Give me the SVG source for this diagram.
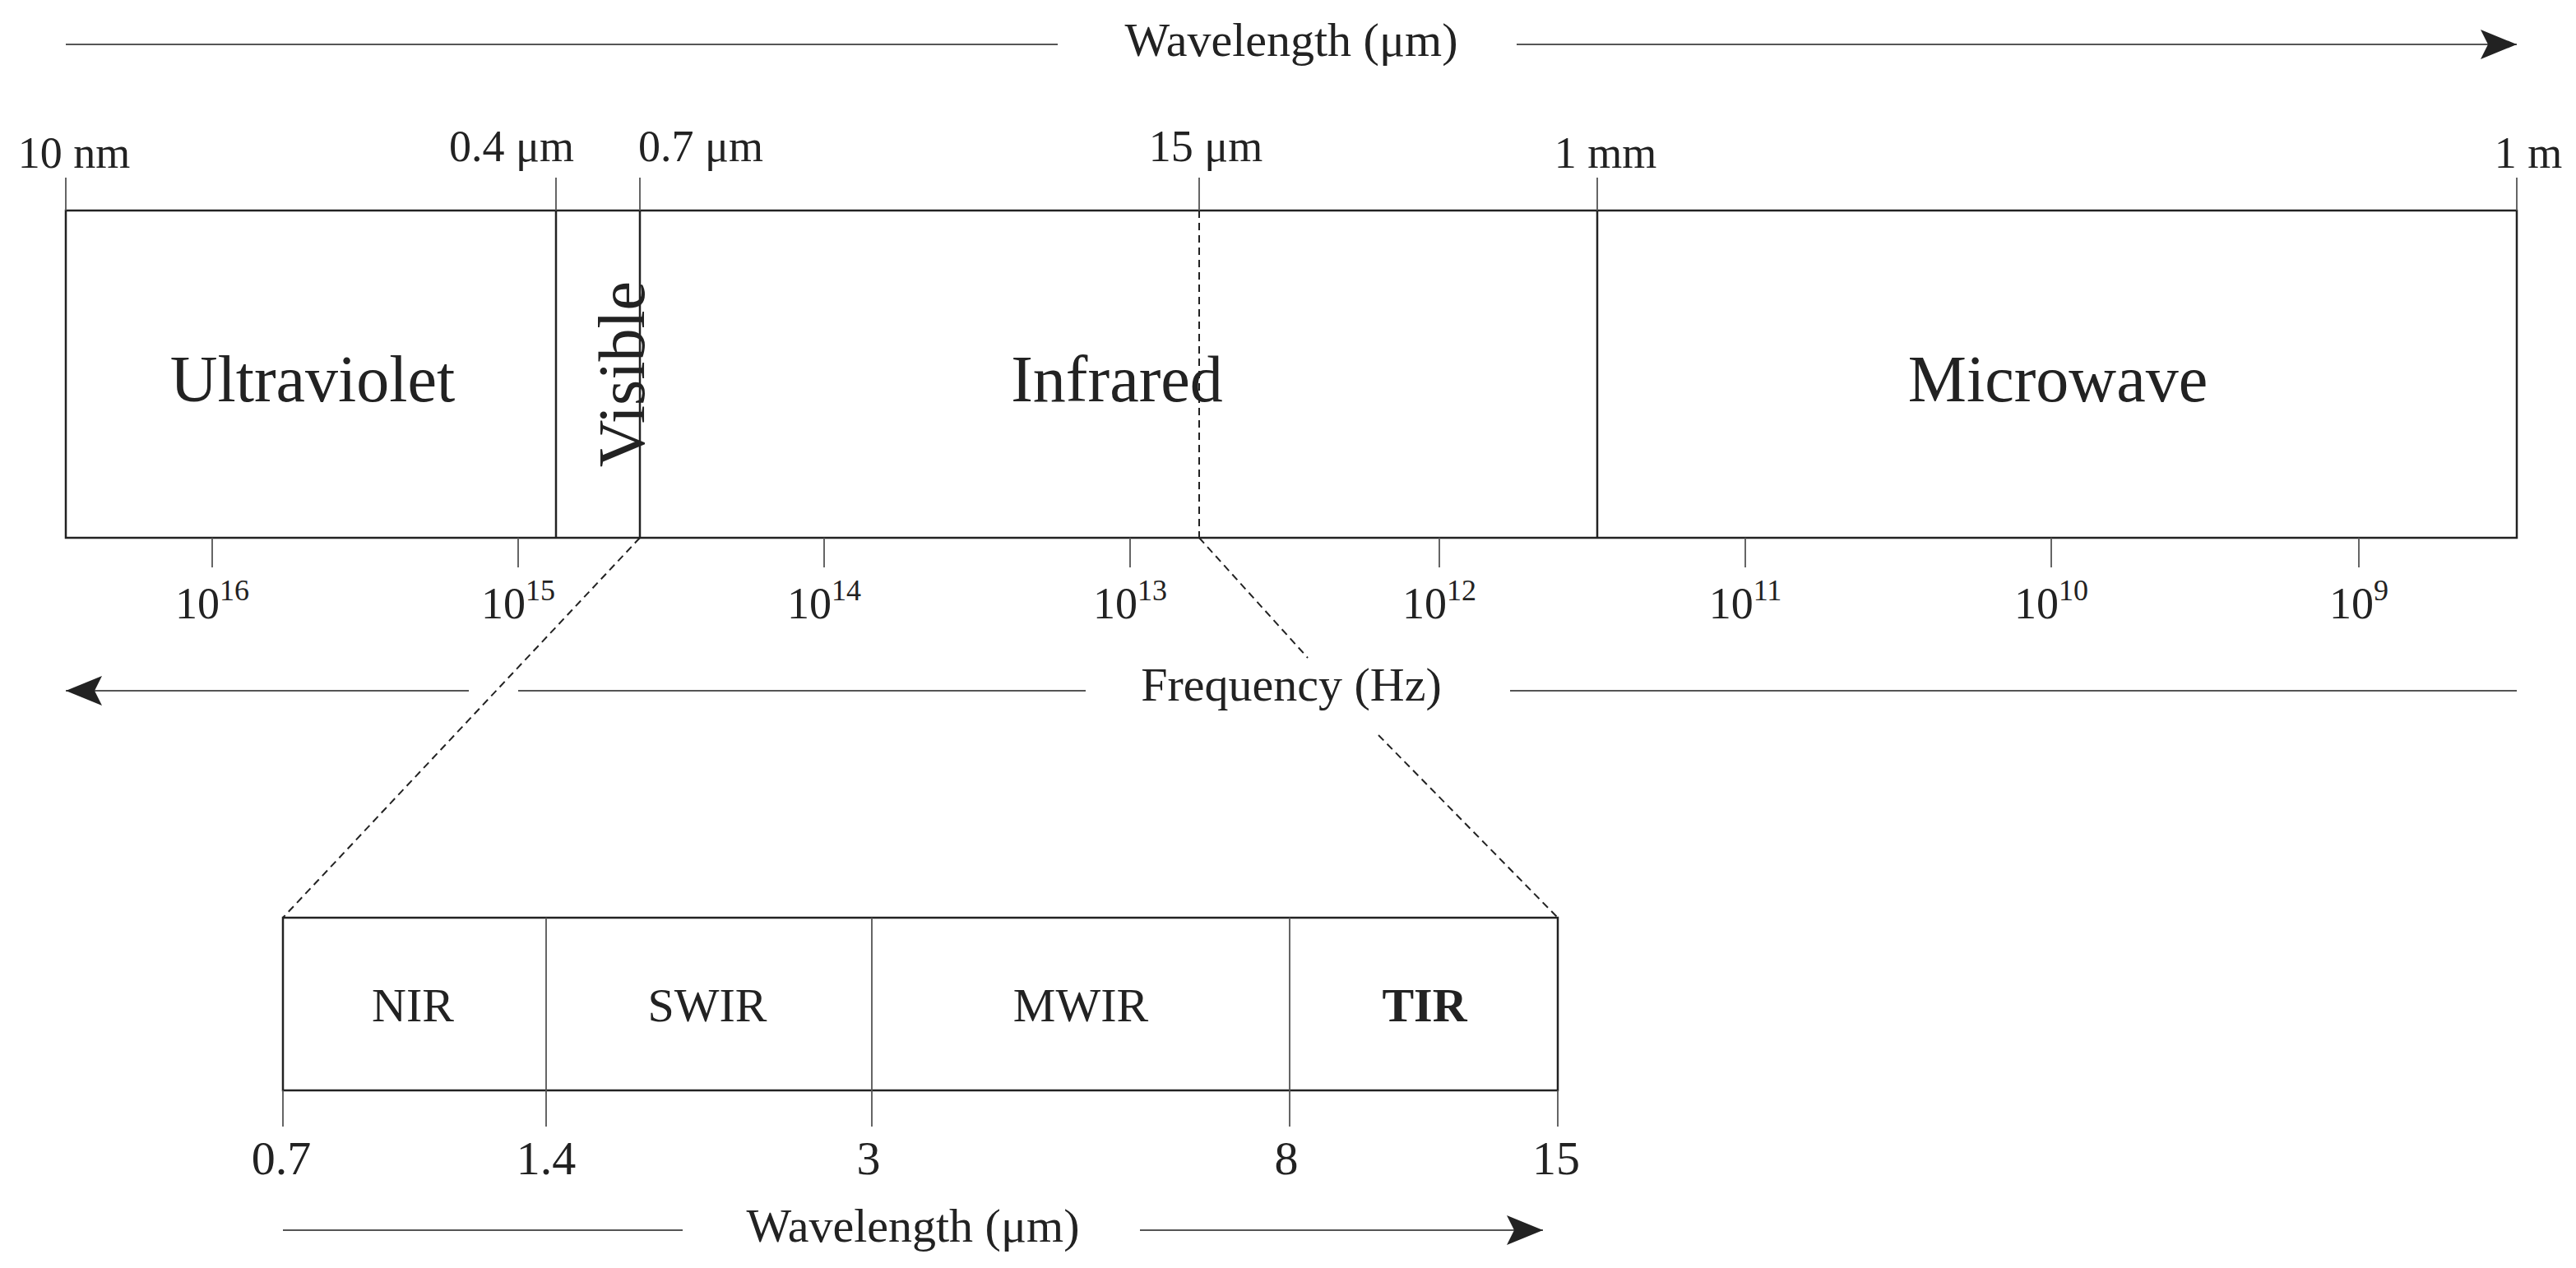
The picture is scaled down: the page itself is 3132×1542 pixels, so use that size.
<svg xmlns="http://www.w3.org/2000/svg" width="3132" height="1542" viewBox="0 0 3132 1542">
<style>
text{font-family:"Liberation Serif","DejaVu Serif",serif;fill:#222}
.ln{stroke:#222;stroke-width:2.5;fill:none}
.th{stroke:#555;stroke-width:1.8;fill:none}
.ds{stroke:#222;stroke-width:2;fill:none;stroke-dasharray:9 6}
.big{font-size:80px;text-anchor:middle}
.lab{font-size:54px;text-anchor:middle}
.sm{font-size:58px;text-anchor:middle}
</style>
<defs>
<marker id="ah" markerWidth="12" markerHeight="10" refX="11" refY="5" orient="auto" markerUnits="userSpaceOnUse" viewBox="0 0 12 10">
<path d="M0,0 L12,5 L0,10 L3,5 Z" fill="#222"/>
</marker>
<marker id="ahb" markerWidth="44" markerHeight="36" refX="44" refY="18" orient="auto" markerUnits="userSpaceOnUse">
<path d="M0,0 L44,18 L0,36 L9,18 Z" fill="#222"/>
</marker>
</defs>
<g id="axes">
<line class="th" x1="80" y1="54" x2="1286" y2="54"/>
<line class="th" x1="1844" y1="54" x2="3060" y2="54" marker-end="url(#ahb)"/>
<text class="sm" x="1570" y="68">Wavelength (μm)</text>
<line class="th" x1="3060" y1="840" x2="1836" y2="840"/>
<line class="th" x1="1320" y1="840" x2="630" y2="840"/>
<line class="th" x1="570" y1="840" x2="80" y2="840" marker-end="url(#ahb)"/>
<text class="sm" x="1570" y="852">Frequency (Hz)</text>
<line class="th" x1="344" y1="1496" x2="830" y2="1496"/>
<line class="th" x1="1386" y1="1496" x2="1876" y2="1496" marker-end="url(#ahb)"/>
<text class="sm" x="1110" y="1510">Wavelength (μm)</text>
</g>
<g id="spectrum">
<rect class="ln" x="80" y="256" width="2980" height="398"/>
<line class="ln" x1="676" y1="256" x2="676" y2="654"/>
<line class="ln" x1="778" y1="256" x2="778" y2="654"/>
<line class="ln" x1="1942" y1="256" x2="1942" y2="654"/>
<line class="ds" x1="1458" y1="256" x2="1458" y2="654"/>
<g class="th">
<line x1="80" y1="216" x2="80" y2="256"/><line x1="676" y1="216" x2="676" y2="256"/><line x1="778" y1="216" x2="778" y2="256"/><line x1="1458" y1="216" x2="1458" y2="256"/><line x1="1942" y1="216" x2="1942" y2="256"/><line x1="3060" y1="216" x2="3060" y2="256"/>
<line x1="258" y1="654" x2="258" y2="690"/><line x1="630" y1="654" x2="630" y2="690"/><line x1="1002" y1="654" x2="1002" y2="690"/><line x1="1374" y1="654" x2="1374" y2="690"/><line x1="1750" y1="654" x2="1750" y2="690"/><line x1="2122" y1="654" x2="2122" y2="690"/><line x1="2494" y1="654" x2="2494" y2="690"/><line x1="2868" y1="654" x2="2868" y2="690"/>
</g>
<text class="lab" x="90" y="204">10 nm</text>
<text class="lab" x="622" y="196">0.4 μm</text>
<text class="lab" x="852" y="196">0.7 μm</text>
<text class="lab" x="1466" y="196">15 μm</text>
<text class="lab" x="1952" y="204">1 mm</text>
<text class="lab" x="3074" y="204">1 m</text>
<text class="big" x="380" y="488">Ultraviolet</text>
<text class="big" x="756" y="455" transform="rotate(-90 756 455)" dy="0" style="dominant-baseline:central">Visible</text>
<text class="big" x="1358" y="488">Infrared</text>
<text class="big" x="2502" y="488">Microwave</text>
<g class="lab">
<text class="lab" x="258" y="752">10<tspan font-size="36" dy="-22">16</tspan></text>
<text class="lab" x="630" y="752">10<tspan font-size="36" dy="-22">15</tspan></text>
<text class="lab" x="1002" y="752">10<tspan font-size="36" dy="-22">14</tspan></text>
<text class="lab" x="1374" y="752">10<tspan font-size="36" dy="-22">13</tspan></text>
<text class="lab" x="1750" y="752">10<tspan font-size="36" dy="-22">12</tspan></text>
<text class="lab" x="2122" y="752">10<tspan font-size="36" dy="-22">11</tspan></text>
<text class="lab" x="2494" y="752">10<tspan font-size="36" dy="-22">10</tspan></text>
<text class="lab" x="2868" y="752">10<tspan font-size="36" dy="-22">9</tspan></text>
</g>
</g>
<g id="connectors">
<line class="ds" x1="778" y1="654" x2="344" y2="1116"/>
<line class="ds" x1="1458" y1="654" x2="1590" y2="800"/>
<line class="ds" x1="1676" y1="894" x2="1894" y2="1116"/>
</g>
<g id="ir-detail">
<rect class="ln" x="344" y="1116" width="1550" height="210"/>
<line class="th" x1="664" y1="1116" x2="664" y2="1326"/>
<line class="th" x1="1060" y1="1116" x2="1060" y2="1326"/>
<line class="th" x1="1568" y1="1116" x2="1568" y2="1326"/>
<g class="th">
<line x1="344" y1="1326" x2="344" y2="1370"/><line x1="664" y1="1326" x2="664" y2="1370"/><line x1="1060" y1="1326" x2="1060" y2="1370"/><line x1="1568" y1="1326" x2="1568" y2="1370"/><line x1="1894" y1="1326" x2="1894" y2="1370"/>
</g>
<text class="sm" x="502" y="1242">NIR</text>
<text class="sm" x="860" y="1242">SWIR</text>
<text class="sm" x="1314" y="1242">MWIR</text>
<text class="sm" x="1732" y="1242" font-weight="bold">TIR</text>
<text class="sm" x="342" y="1428">0.7</text>
<text class="sm" x="664" y="1428">1.4</text>
<text class="sm" x="1056" y="1428">3</text>
<text class="sm" x="1564" y="1428">8</text>
<text class="sm" x="1892" y="1428">15</text>
</g>
</svg>
